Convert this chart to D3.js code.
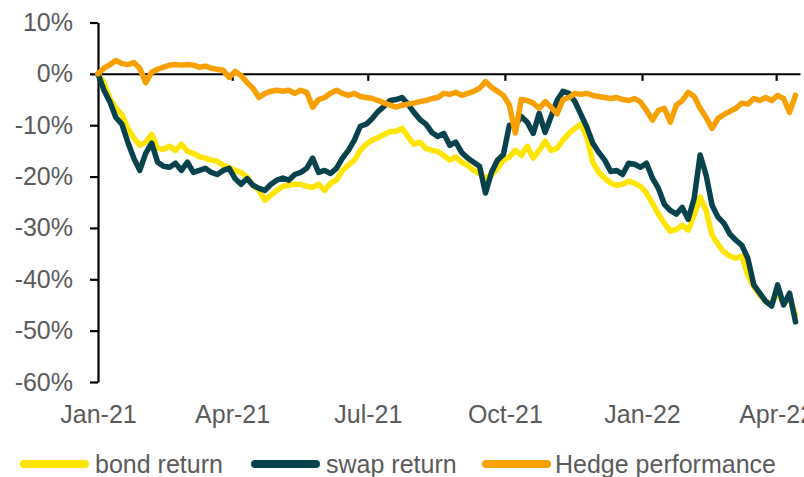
<!DOCTYPE html>
<html>
<head>
<meta charset="utf-8">
<script src="https://cdn.jsdelivr.net/npm/d3@7"></script>
<style>
  html, body { margin: 0; padding: 0; background: #fff; }
  svg { display: block; font-family: "Liberation Sans", Arial, sans-serif; }
</style>
</head>
<body>
<svg id="chart" width="804" height="477"></svg>
<script>
// ---- data (sampled every 4 days from 1 Jan 2021) ----
const startDate = new Date(2021, 0, 1);
const dates = d3.timeDay.range(startDate, new Date(2022, 3, 15), 4);

const bondReturn = [
  0, -1.8, -4.8, -6.7, -7.9, -10.6, -12.5, -13.9, -13.3, -11.8,
  -14.5, -14.7, -14.1, -14.9, -13.7, -15.1, -15.5, -16.1, -16.4, -16.8,
  -17.0, -17.8, -18.2, -18.8, -19.2, -20.1, -21.7, -22.7, -24.6, -23.6,
  -22.7, -21.9, -21.7, -21.5, -21.5, -21.9, -22.1, -21.5, -22.7, -21.3,
  -20.7, -18.8, -17.8, -16.8, -14.9, -13.7, -12.9, -12.4, -11.8, -11.2,
  -11.2, -10.6, -12.2, -13.7, -13.3, -14.5, -14.9, -15.1, -15.9, -16.8,
  -16.2, -17.2, -17.8, -18.8, -19.4, -20.3, -19.7, -18.4, -16.8, -16.2,
  -14.9, -15.9, -14.1, -16.4, -14.9, -13.1, -14.9, -14.5, -12.9, -11.6,
  -10.6, -9.8, -12.4, -17.2, -19.2, -20.3, -21.3, -21.7, -21.5, -20.9,
  -21.3, -21.9, -23.2, -25.2, -27.3, -29.1, -30.6, -30.3, -29.5, -30.4,
  -27.5, -24.0, -26.6, -31.4, -33.2, -34.7, -35.5, -35.9, -35.5, -39.2,
  -41.5, -43.1, -44.3, -44.7, -42.5, -44.7, -43.7, -47.0
];

const swapReturn = [
  0, -3.2, -5.5, -8.5, -9.8, -13.3, -16.4, -18.8, -15.5, -13.5,
  -17.2, -18.0, -18.2, -17.4, -18.8, -17.2, -19.2, -18.8, -18.4, -19.2,
  -19.6, -18.8, -18.4, -20.4, -21.5, -20.4, -21.7, -22.3, -22.7, -21.5,
  -20.7, -20.3, -20.7, -19.6, -19.2, -18.4, -16.4, -19.2, -18.8, -19.4,
  -18.4, -16.4, -14.9, -12.9, -10.2, -9.8, -8.7, -7.3, -6.3, -5.2,
  -5.0, -4.6, -5.9, -7.5, -8.9, -9.8, -11.4, -12.2, -11.6, -13.9,
  -13.3, -15.3, -16.4, -17.2, -18.0, -23.2, -19.2, -16.8, -15.7, -10.0,
  -10.0, -8.3, -9.4, -11.6, -7.7, -11.4, -8.3, -5.2, -3.4, -3.8,
  -5.4, -7.9, -10.4, -13.5, -15.3, -16.8, -19.0, -18.8, -19.6, -17.4,
  -17.6, -18.2, -17.4, -20.3, -22.3, -25.4, -26.6, -27.3, -26.0, -28.3,
  -24.2, -15.8, -19.7, -25.6, -27.9, -29.1, -31.2, -32.4, -33.4, -35.9,
  -41.1, -42.7, -44.3, -45.2, -41.1, -45.0, -42.7, -48.3
];

const hedgePerformance = [
  0, 1.1, 1.8, 2.6, 2.0, 1.8, 2.2, 1.1, -1.7, 0.3,
  0.9, 1.3, 1.7, 1.8, 1.7, 1.8, 1.7, 1.3, 1.5, 1.1,
  0.9, 0.7, -0.7, 0.5, -0.3, -1.7, -2.8, -4.6, -3.8, -3.4,
  -3.2, -3.4, -3.2, -3.8, -3.2, -3.6, -6.5, -5.0, -4.6, -3.8,
  -3.2, -3.8, -4.2, -3.8, -4.4, -4.6, -4.8, -5.2, -5.7, -6.1,
  -6.5, -6.1, -5.9, -5.7, -5.4, -5.2, -4.8, -4.6, -3.8, -4.0,
  -3.6, -4.2, -3.8, -3.4, -2.8, -1.5, -2.6, -3.4, -4.2, -6.1,
  -11.5, -5.0, -5.2, -5.7, -6.7, -5.4, -6.5, -7.8, -5.0, -4.6,
  -3.8, -4.0, -3.8, -4.2, -4.4, -4.6, -4.8, -4.6, -5.0, -5.2,
  -4.8, -5.5, -7.1, -9.0, -7.1, -6.7, -9.4, -6.1, -5.2, -3.6,
  -4.4, -6.7, -8.5, -10.6, -8.7, -7.9, -7.3, -6.7, -5.7, -5.9,
  -4.8, -5.2, -4.6, -5.2, -4.2, -4.8, -7.5, -4.2
];

const yTicks = [10, 0, -10, -20, -30, -40, -50, -60];
const xTickDates = [new Date(2021,0,1), new Date(2021,3,1), new Date(2021,6,1),
                    new Date(2021,9,1), new Date(2022,0,1), new Date(2022,3,1)];
const xTickLabels = ["Jan-21", "Apr-21", "Jul-21", "Oct-21", "Jan-22", "Apr-22"];

const seriesNames = ["bond return", "swap return", "Hedge performance"];
const seriesColors = ["#FFE500", "#08434D", "#F8A000"];

// ---- chart ----
const svg = d3.select("#chart");
const textColor = "#5a5a5a";
const fontSize = 25;

const x = d3.scaleTime()
  .domain([startDate, new Date(2022, 3, 17)])
  .range([98, 800]);
const y = d3.scaleLinear()
  .domain([-60, 10])
  .range([382, 22.5]);

// Y axis
const yAxis = d3.axisLeft(y)
  .tickValues(yTicks)
  .tickSize(8)
  .tickSizeOuter(0)
  .tickPadding(17)
  .tickFormat(d => d + "%");
const gy = svg.append("g").attr("transform", "translate(98,0)").call(yAxis);
gy.select(".domain").attr("stroke", "#000").attr("stroke-width", 2.2);
gy.selectAll(".tick line").attr("stroke", "#000").attr("stroke-width", 2.2);
gy.selectAll(".tick text")
  .attr("fill", textColor)
  .style("font-size", fontSize + "px")
  .style("font-family", '"Liberation Sans", Arial, sans-serif');

// X axis at zero
const xAxis = d3.axisBottom(x)
  .tickValues(xTickDates)
  .tickSize(7)
  .tickSizeOuter(0)
  .tickFormat((d, i) => xTickLabels[i]);
const gx = svg.append("g").attr("transform", `translate(0,${y(0)})`).call(xAxis);
gx.select(".domain").attr("stroke", "#000").attr("stroke-width", 2);
gx.selectAll(".tick line").attr("stroke", "#000").attr("stroke-width", 2.2);
gx.selectAll(".tick text")
  .attr("y", 405 - y(0))
  .attr("dy", "0.71em")
  .attr("fill", textColor)
  .style("font-size", fontSize + "px")
  .style("font-family", '"Liberation Sans", Arial, sans-serif');

// Lines
const allSeries = [bondReturn, swapReturn, hedgePerformance];
const line = d3.line()
  .x((d, i) => x(dates[i]))
  .y(d => y(d));

allSeries.forEach((vals, k) => {
  svg.append("path")
    .datum(vals)
    .attr("fill", "none")
    .attr("stroke", seriesColors[k])
    .attr("stroke-width", 5.5)
    .attr("stroke-linejoin", "round")
    .attr("stroke-linecap", "round")
    .attr("d", line);
});

// Legend
const legendX = [24, 255, 486];
const legend = svg.append("g");
seriesNames.forEach((name, k) => {
  legend.append("line")
    .attr("x1", legendX[k]).attr("x2", legendX[k] + 61)
    .attr("y1", 464).attr("y2", 464)
    .attr("stroke", seriesColors[k])
    .attr("stroke-width", 8)
    .attr("stroke-linecap", "round");
  legend.append("text")
    .attr("x", legendX[k] + 71 + (k === 2 ? -2 : 0))
    .attr("y", 473)
    .attr("fill", textColor)
    .style("font-size", fontSize + "px")
    .text(name);
});
</script>
</body>
</html>
